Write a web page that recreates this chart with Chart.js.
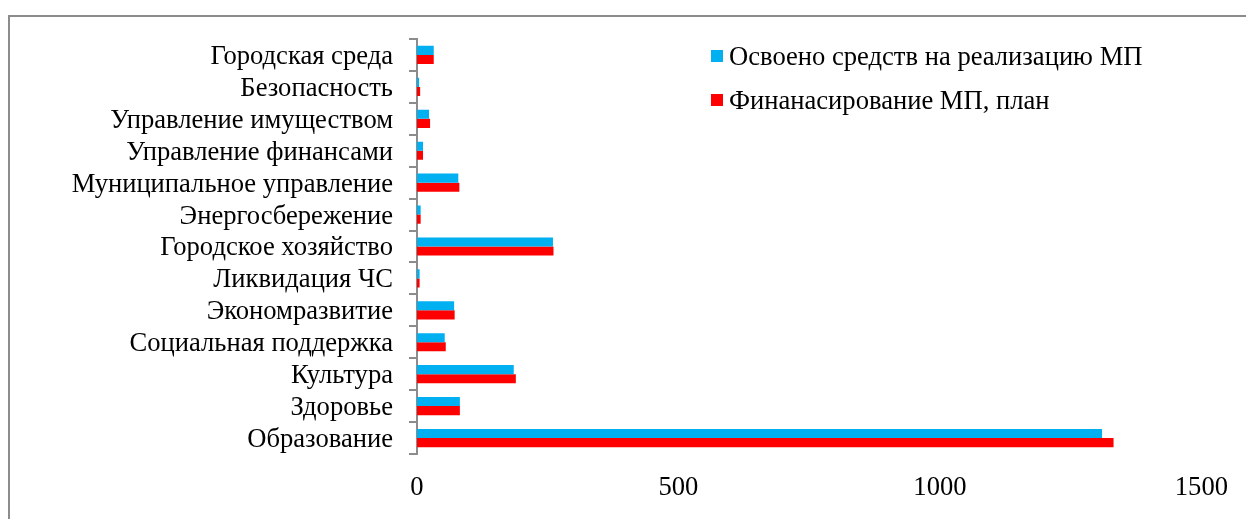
<!DOCTYPE html>
<html><head><meta charset="utf-8">
<script src="https://cdn.jsdelivr.net/npm/chart.js@4/dist/chart.umd.min.js"></script>
<style>html,body{margin:0;padding:0;background:#fff;overflow:hidden}#wrap{position:relative;width:1246px;height:519px}</style>
</head><body><div id="wrap"><canvas id="c" width="1246" height="519"></canvas></div>
<script>
const categories = ['Городская среда','Безопасность','Управление имуществом','Управление финансами','Муниципальное управление','Энергосбережение','Городское хозяйство','Ликвидация ЧС','Экономразвитие','Социальная поддержка','Культура','Здоровье','Образование'];
const seriesNames = ['Освоено средств на реализацию МП','Финанасирование МП, план'];
const mastered = [32, 4, 23, 11.5, 79, 7, 260, 5, 71, 53, 185, 82, 1310];
const planned  = [32, 6, 25, 11.5, 81, 7, 261, 5, 72, 55, 189, 82, 1332];
const xTickValues = [0, 500, 1000, 1500];
const seriesColors = ['#00B0F0', '#FF0000'];

const FONT = 'Liberation Serif';
const FSIZE = 26.6;

const framePlugin = {
  id: 'frame',
  beforeDraw(chart) {
    const ctx = chart.ctx;
    ctx.save();
    ctx.strokeStyle = '#8c8c8c';
    ctx.lineWidth = 2;
    ctx.beginPath();
    ctx.moveTo(9, 519); ctx.lineTo(9, 16); ctx.lineTo(1246, 16);
    ctx.stroke();
    ctx.restore();
  }
};

const legendPlugin = {
  id: 'innerLegend',
  afterDraw(chart) {
    const ctx = chart.ctx;
    ctx.save();
    ctx.font = FSIZE + 'px "' + FONT + '"';
    ctx.textBaseline = 'alphabetic';
    ctx.textAlign = 'left';
    chart.data.datasets.forEach((ds, i) => {
      const base = 65 + i * 44;
      ctx.fillStyle = ds.backgroundColor;
      ctx.fillRect(711, base - 15, 12, 12);
      ctx.fillStyle = '#000';
      ctx.fillText(ds.label, 729, base);
    });
    ctx.restore();
  }
};

new Chart(document.getElementById('c'), {
  type: 'bar',
  data: {
    labels: categories,
    datasets: [
      { label: seriesNames[0], data: mastered, backgroundColor: seriesColors[0], borderWidth: 0 },
      { label: seriesNames[1], data: planned, backgroundColor: seriesColors[1], borderWidth: 0 }
    ]
  },
  options: {
    indexAxis: 'y',
    responsive: false,
    animation: false,
    devicePixelRatio: 1,
    categoryPercentage: 0.57,
    barPercentage: 1.0,
    layout: { padding: { left: 0, right: 44, top: 39, bottom: 0 } },
    plugins: { legend: { display: false }, tooltip: { enabled: false } },
    scales: {
      x: {
        min: 0, max: 1500,
        afterBuildTicks(scale) { scale.ticks = xTickValues.map(v => ({ value: v })); },
        afterFit(scale) { scale.height = 65; },
        grid: { display: false, drawTicks: false },
        border: { display: false },
        ticks: { color: '#000', font: { family: FONT, size: FSIZE }, padding: 18, maxRotation: 0,
                 callback: (v) => String(v) }
      },
      y: {
        afterFit(scale) { scale.width = 417; },
        grid: { drawOnChartArea: false, drawTicks: true, tickLength: 8, color: '#8c8c8c', lineWidth: 2, offset: true },
        border: { display: true, color: '#8c8c8c', width: 2 },
        ticks: { color: '#000', font: { family: FONT, size: FSIZE }, padding: 16, autoSkip: false, labelOffset: 2 }
      }
    }
  },
  plugins: [framePlugin, legendPlugin]
});
</script>
</body></html>
